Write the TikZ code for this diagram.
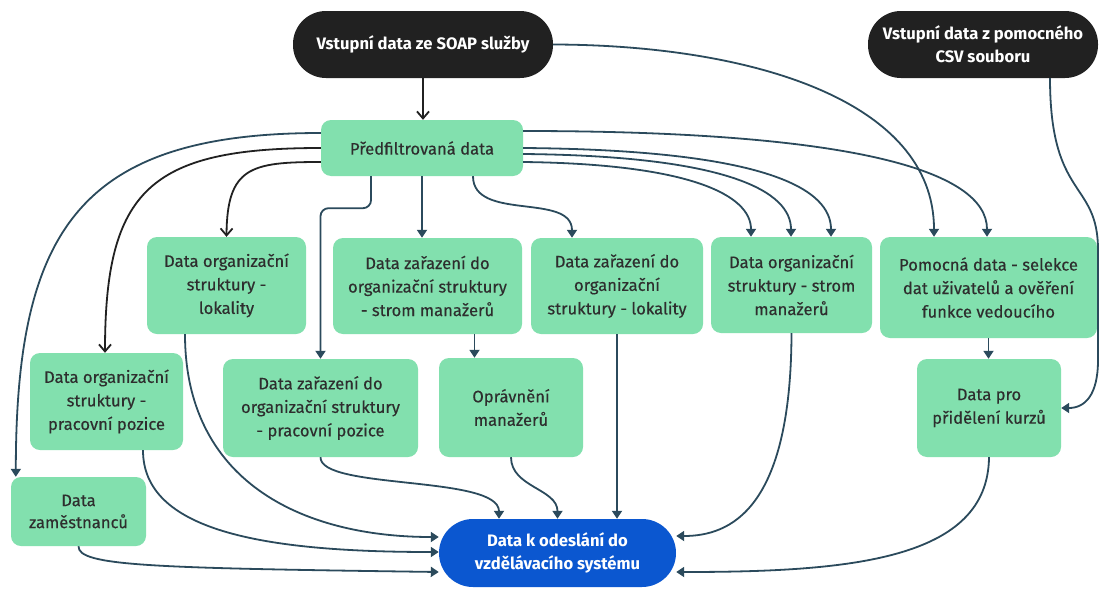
\documentclass[tikz,border=0pt]{standalone}
\usepackage{fontspec}
\setmainfont{Fira Sans}
\newfontfamily\boxfont[FakeBold=0.35]{Fira Sans}
\usetikzlibrary{arrows.meta,calc}
\definecolor{mint}{HTML}{82E0AE}
\definecolor{ink}{HTML}{212121}
\definecolor{royal}{HTML}{0B57D0}
\definecolor{slate}{HTML}{2B4A5C}
\definecolor{txt}{HTML}{2E2E2E}
\tikzset{
  gbox/.style={fill=mint, rounded corners=10pt, align=center, text=txt,
    font=\boxfont\fontsize{16.6}{23.5}\selectfont, inner sep=0pt},
  pill/.style={rounded corners=33pt, align=center, text=white,
    font=\bfseries\fontsize{16.6}{23}\selectfont, inner sep=0pt},
  tl/.style={draw=slate, line width=1.8pt, -{Triangle[width=10pt,length=8pt]}},
  bk/.style={draw=ink, line width=1.8pt, -{Straight Barb[width=12pt,length=7pt]}},
}
\begin{document}
\begin{tikzpicture}[x=1pt,y=1pt]
\useasboundingbox (0,0) rectangle (1099,-589);
\fill[white] (0,0) rectangle (1099,-589);

% sources
\node[pill, fill=ink, minimum width=260pt, minimum height=67pt] (soap) at (423,-44.5) {Vstupní data ze SOAP služby};
\node[pill, fill=ink, minimum width=230pt, minimum height=67pt] (csv) at (983,-44.5) {Vstupní data z pomocného\\CSV souboru};

% intermediate data
\node[gbox, minimum width=202pt, minimum height=56pt] (pf) at (422,-148) {Předfiltrovaná data};
\node[gbox, minimum width=159pt, minimum height=97pt] (lok) at (226.5,-285.5) {Data organizační\\struktury -\\lokality};
\node[gbox, minimum width=189pt, minimum height=96pt] (zsm) at (427.5,-286) {Data zařazení do\\organizační struktury\\- strom manažerů};
\node[gbox, minimum width=172pt, minimum height=96pt] (zlok) at (617,-286) {Data zařazení do\\organizační\\struktury - lokality};
\node[gbox, minimum width=161pt, minimum height=96pt] (osm) at (791.5,-285) {Data organizační\\struktury - strom\\manažerů};
\node[gbox, minimum width=217pt, minimum height=101pt] (pom) at (988.5,-287.5) {Pomocná data - selekce\\dat uživatelů a ověření\\funkce vedoucího};
\node[gbox, minimum width=153pt, minimum height=97pt] (opp) at (106.5,-401.5) {Data organizační\\struktury -\\pracovní pozice};
\node[gbox, minimum width=195pt, minimum height=98pt] (zpp) at (320.5,-408) {Data zařazení do\\organizační struktury\\- pracovní pozice};
\node[gbox, minimum width=144pt, minimum height=99pt] (opr) at (511,-407.5) {Oprávnění\\manažerů};
\node[gbox, minimum width=144pt, minimum height=98pt] (kurz) at (989,-408) {Data pro\\přidělení kurzů};
\node[gbox, minimum width=135pt, minimum height=69pt, font=\boxfont\fontsize{16.6}{22}\selectfont] (zam) at (78.5,-511.5) {Data\\zaměstnanců};

% target
\node[pill, fill=royal, minimum width=237pt, minimum height=68pt, rounded corners=34pt] (out) at (557.5,-553) {Data k odeslání do\\vzdělávacího systému};

% SOAP input
\draw[bk] (soap.south) -- (soap.south |- pf.north);
\draw[tl] (soap.east) .. controls (750,-45) and (934,-100) .. ($(pom.north)+(-54.5,0)$);

% CSV input
\draw[tl] ($(csv.south)+(67,0)$) .. controls (1050,-200) and (1098,-180) .. (1098,-250)
  -- (1098,-360) .. controls (1098,-395) and (1085,-408) .. (kurz.east);

% pre-filtered data, left side
\draw[tl] ($(pf.west)+(0,15)$) .. controls (80,-133) and (16,-230) .. ($(zam.north west)+(5,0)$);
\draw[bk] (pf.west) .. controls (150,-148) and (105,-190) .. ($(opp.north)+(-1.5,0)$);
\draw[bk] ($(pf.west)+(0,-14)$) .. controls (251,-162) and (227,-167) .. (lok.north);

% pre-filtered data, bottom
\draw[tl, rounded corners=8pt] ($(pf.south)+(-51,0)$) -- ++(0,-32) -| (zpp.north);
\draw[tl] (pf.south) -- (pf.south |- zsm.north);
\draw[tl] ($(pf.south)+(51,0)$) to[out=-90,in=90] ($(zlok.north)+(-45,0)$);

% pre-filtered data, right side
\draw[tl] ($(pf.east)+(0,17)$) .. controls (850,-131) and (987,-170) .. ($(pom.north)+(-1.5,0)$);
\draw[tl] (pf.east) .. controls (770,-150) and (831,-190) .. ($(osm.north)+(39.5,0)$);
\draw[tl] ($(pf.east)+(0,-6)$) .. controls (730,-156) and (791,-192) .. ($(osm.north)+(-0.5,0)$);
\draw[tl] ($(pf.east)+(0,-14)$) .. controls (690,-164) and (751,-195) .. ($(osm.north)+(-40.5,0)$);

% second level
\coordinate (zo) at ($(zsm.south)+(47,0)$);
\draw[tl] (zo) -- (zo |- opr.north);
\draw[tl] (pom.south) -- (pom.south |- kurz.north);

% into the output
\draw[tl] ($(lok.south)+(-41.5,0)$) .. controls (185,-480) and (300,-537) .. ($(out.west)+(0,16)$);
\draw[tl] ($(opp.south)+(36.5,0)$) .. controls (143,-530) and (260,-552) .. ($(out.west)+(0,1)$);
\draw[tl] (zam.south) .. controls (78,-566) and (150,-568) .. ($(out.west)+(0,-19)$);
\draw[tl] (zpp.south) .. controls (320,-490) and (499,-475) .. ($(out.north)+(-58.5,0)$);
\draw[tl] (opr.south) to[out=-90,in=90] (out.north);
\draw[tl] (zlok.south) -- (zlok.south |- out.north);
\draw[tl] (osm.south) .. controls (791,-510) and (730,-536) .. ($(out.east)+(0,17)$);
\draw[tl] (kurz.south) .. controls (988,-560) and (850,-572) .. ($(out.east)+(0,-19)$);
\end{tikzpicture}
\end{document}
